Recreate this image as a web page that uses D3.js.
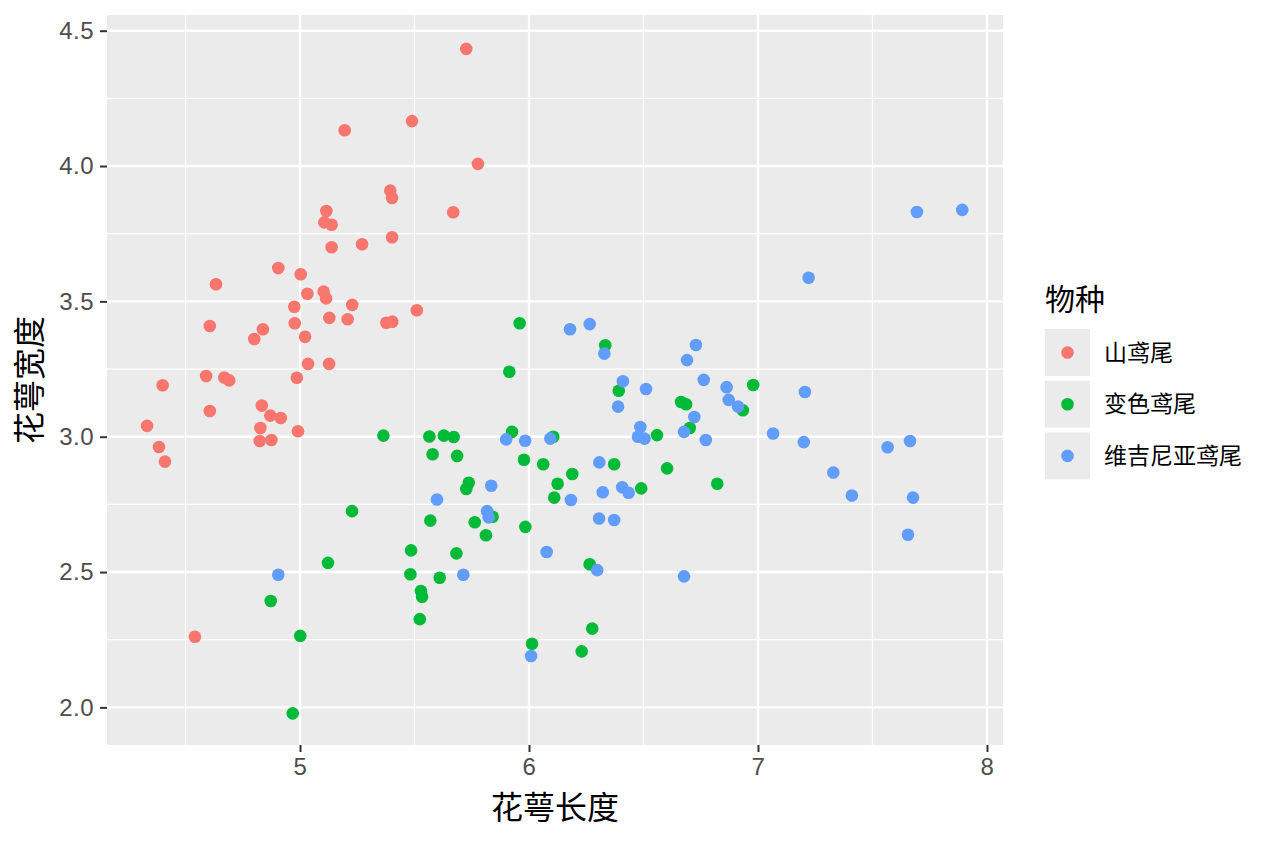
<!DOCTYPE html>
<html>
<head>
<meta charset="utf-8">
<script src="https://cdn.jsdelivr.net/npm/d3@7"></script>
<style>
  body { margin: 0; background: #fff; }
  svg text { font-family: "Liberation Sans", "Noto Sans CJK SC", sans-serif; }
  .cjk { font-family: "Noto Sans CJK SC", sans-serif; }
</style>
</head>
<body>
<svg id="chart"></svg>
<script>
// species labels and colours (ggplot default hue palette)
const species = ['山鸢尾', '变色鸢尾', '维吉尼亚鸢尾'];
const speciesColors = ['#F8766D', '#00BA38', '#619CFF'];

// jittered sepal length / width
const setosaX = [5.726,5.489,5.195,5.777,5.394,5.402,5.669,5.115,5.106,5.138,5.402,5.271,5.138,4.905,5.003,4.633,5.032,5.103,5.114,5.228,5.510,4.975,4.606,4.838,4.800,4.977,5.128,5.208,5.377,5.403,5.022,5.035,5.127,4.590,4.669,4.691,4.986,4.400,4.606,4.833,4.870,4.916,4.332,4.827,4.991,4.824,4.875,4.384,4.410,4.541];
const setosaY = [4.433,4.166,4.132,4.008,3.909,3.882,3.829,3.834,3.792,3.783,3.737,3.711,3.700,3.623,3.600,3.563,3.528,3.536,3.511,3.487,3.467,3.480,3.409,3.397,3.361,3.419,3.439,3.434,3.421,3.425,3.369,3.269,3.269,3.224,3.219,3.208,3.218,3.190,3.095,3.115,3.078,3.069,3.040,3.032,3.020,2.984,2.988,2.962,2.908,2.261];

const versicolorX = [5.364,5.565,5.628,5.671,5.579,5.686,5.737,5.726,5.227,5.569,5.763,5.841,5.812,5.485,5.683,5.122,5.482,5.610,5.528,5.533,4.872,5.523,5.001,4.968,5.959,6.333,5.914,6.392,6.979,6.664,6.686,6.934,6.702,6.559,5.926,6.106,5.978,6.062,6.372,6.603,6.822,6.189,6.125,6.490,6.110,5.984,6.265,6.276,6.013,6.230];
const versicolorY = [3.004,3.001,3.004,2.999,2.935,2.929,2.830,2.807,2.725,2.690,2.684,2.704,2.636,2.580,2.569,2.534,2.492,2.479,2.430,2.409,2.393,2.326,2.264,1.978,3.419,3.338,3.240,3.170,3.191,3.128,3.120,3.098,3.032,3.006,3.018,3.000,2.915,2.898,2.898,2.883,2.826,2.862,2.826,2.809,2.775,2.667,2.529,2.291,2.235,2.207];

const virginicaX = [5.835,5.598,5.900,5.817,5.824,4.905,5.713,6.179,6.265,6.329,6.729,6.690,6.410,6.511,6.763,6.863,6.872,6.913,6.389,6.722,6.677,6.772,6.486,6.476,6.505,7.066,5.983,6.093,6.307,6.322,6.407,6.435,6.183,6.306,6.372,6.077,6.298,6.677,6.009,7.694,7.892,7.221,7.205,7.200,7.329,7.410,7.566,7.664,7.677,7.655];
const virginicaY = [2.819,2.768,2.990,2.725,2.702,2.490,2.490,3.397,3.416,3.307,3.339,3.283,3.205,3.176,3.210,3.183,3.136,3.111,3.111,3.073,3.018,2.988,3.036,3.000,2.993,3.012,2.985,2.993,2.905,2.795,2.813,2.793,2.766,2.698,2.692,2.574,2.507,2.484,2.190,3.830,3.838,3.587,3.165,2.980,2.868,2.783,2.961,2.984,2.775,2.638];

const xTicks = [5, 6, 7, 8];
const xMinor = [4.5, 5.5, 6.5, 7.5];
const yTicks = [2.0, 2.5, 3.0, 3.5, 4.0, 4.5];
const yMinor = [2.25, 2.75, 3.25, 3.75, 4.25];

const xLabel = '花萼长度';
const yLabel = '花萼宽度';
const legendTitle = '物种';

const width = 1264, height = 843;
const panel = {left: 107, top: 15, right: 1003, bottom: 745};

const svg = d3.select('#chart')
    .attr('width', width)
    .attr('height', height);

const xScale = d3.scaleLinear()
    .domain([4.157, 8.070])
    .range([panel.left, panel.right]);

const yScale = d3.scaleLinear()
    .domain([1.861, 4.558])
    .range([panel.bottom, panel.top]);

// panel background
svg.append('rect')
    .attr('x', panel.left)
    .attr('y', panel.top)
    .attr('width', panel.right - panel.left)
    .attr('height', panel.bottom - panel.top)
    .attr('fill', '#EBEBEB');

// gridlines: minor first, then major
const grid = svg.append('g');
grid.selectAll('.vminor').data(xMinor).join('line')
    .attr('x1', d => xScale(d)).attr('x2', d => xScale(d))
    .attr('y1', panel.top).attr('y2', panel.bottom)
    .attr('stroke', '#fff').attr('stroke-width', 1.2);
grid.selectAll('.hminor').data(yMinor).join('line')
    .attr('y1', d => yScale(d)).attr('y2', d => yScale(d))
    .attr('x1', panel.left).attr('x2', panel.right)
    .attr('stroke', '#fff').attr('stroke-width', 1.2);
grid.selectAll('.vmajor').data(xTicks).join('line')
    .attr('x1', d => xScale(d)).attr('x2', d => xScale(d))
    .attr('y1', panel.top).attr('y2', panel.bottom)
    .attr('stroke', '#fff').attr('stroke-width', 2.4);
grid.selectAll('.hmajor').data(yTicks).join('line')
    .attr('y1', d => yScale(d)).attr('y2', d => yScale(d))
    .attr('x1', panel.left).attr('x2', panel.right)
    .attr('stroke', '#fff').attr('stroke-width', 2.4);

// axes
const xAxis = d3.axisBottom(xScale)
    .tickValues(xTicks)
    .tickSize(7)
    .tickPadding(6)
    .tickFormat(d3.format('d'));

const yAxis = d3.axisLeft(yScale)
    .tickValues(yTicks)
    .tickSize(7)
    .tickPadding(6)
    .tickFormat(d3.format('.1f'));

const styleAxis = g => {
  g.select('.domain').remove();
  g.selectAll('.tick line').attr('stroke', '#333').attr('stroke-width', 2);
  g.selectAll('.tick text')
      .attr('fill', '#4D4D4D')
      .style('font-size', '24px')
      .style('letter-spacing', '0.5px');
};

svg.append('g')
    .attr('transform', `translate(0,${panel.bottom})`)
    .call(xAxis)
    .call(styleAxis);

svg.append('g')
    .attr('transform', `translate(${panel.left},0)`)
    .call(yAxis)
    .call(styleAxis);

// axis titles
svg.append('text')
    .attr('class', 'cjk')
    .attr('x', (panel.left + panel.right) / 2)
    .attr('y', 808)
    .attr('dy', '0.35em')
    .attr('text-anchor', 'middle')
    .style('font-size', '32px')
    .attr('fill', '#000')
    .text(xLabel);

svg.append('text')
    .attr('class', 'cjk')
    .attr('transform', `translate(30,${(panel.top + panel.bottom) / 2}) rotate(-90)`)
    .attr('dy', '0.35em')
    .attr('text-anchor', 'middle')
    .style('font-size', '32px')
    .attr('fill', '#000')
    .text(yLabel);

// points
const data = [];
[[setosaX, setosaY], [versicolorX, versicolorY], [virginicaX, virginicaY]].forEach(([xs, ys], i) => {
  xs.forEach((x, j) => data.push({x: x, y: ys[j], s: i}));
});

svg.append('g').selectAll('circle')
    .data(data)
    .join('circle')
    .attr('cx', d => xScale(d.x))
    .attr('cy', d => yScale(d.y))
    .attr('r', 6.3)
    .attr('fill', d => speciesColors[d.s]);

// legend
const legend = svg.append('g');
legend.append('text')
    .attr('class', 'cjk')
    .attr('x', 1045)
    .attr('y', 299)
    .attr('dy', '0.35em')
    .style('font-size', '30px')
    .attr('fill', '#000')
    .text(legendTitle);

const keys = legend.selectAll('.key')
    .data(species)
    .join('g')
    .attr('transform', (d, i) => `translate(1045,${329 + i * 51.7})`);

keys.append('rect')
    .attr('width', 45)
    .attr('height', 47)
    .attr('fill', '#EBEBEB');

keys.append('circle')
    .attr('cx', 22.5)
    .attr('cy', 23.5)
    .attr('r', 6.3)
    .attr('fill', (d, i) => speciesColors[i]);

keys.append('text')
    .attr('class', 'cjk')
    .attr('x', 59)
    .attr('y', 23.5)
    .attr('dy', '0.35em')
    .style('font-size', '23px')
    .attr('fill', '#000')
    .text(d => d);
</script>
</body>
</html>
